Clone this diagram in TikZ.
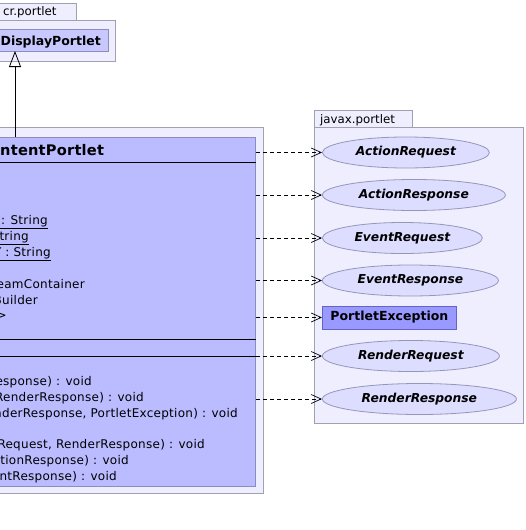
\documentclass[tikz,border=0pt]{standalone}
\usepackage{fontspec}
\setmainfont{DejaVu Sans}
\newfontfamily\spacedfont{DejaVu Sans}[LetterSpace=2.3]
\newfontfamily\titlefont{DejaVu Sans}[LetterSpace=1.5]
\usetikzlibrary{arrows.meta,shapes.geometric}
\definecolor{pkgfill}{RGB}{238,238,255}
\definecolor{pkgline}{RGB}{160,160,176}
\definecolor{clsfill}{RGB}{187,187,255}
\definecolor{clsline}{RGB}{140,140,190}
\definecolor{dispfill}{RGB}{200,200,255}
\definecolor{ellfill}{RGB}{221,221,255}
\definecolor{ellline}{RGB}{150,150,185}
\definecolor{excfill}{RGB}{153,153,255}
\definecolor{excline}{RGB}{100,100,200}
\tikzset{
  pkg/.style={draw=pkgline, fill=pkgfill, line width=0.8pt, inner sep=0pt},
  cls/.style={draw=clsline, fill=clsfill, line width=0.8pt, inner sep=0pt},
  iface/.style={ellipse, draw=ellline, fill=ellfill, line width=0.8pt, inner sep=0pt,
    minimum height=31pt, anchor=west, font=\fontsize{12.3}{14}\selectfont\bfseries\itshape},
  exc/.style={rectangle, draw=excline, fill=excfill, line width=0.8pt, inner sep=0pt,
    minimum height=23pt, minimum width=134pt, anchor=west, font=\fontsize{12.5}{14}\selectfont\bfseries},
  txt/.style={anchor=base east, inner sep=0pt, font=\spacedfont\fontsize{12}{14}\selectfont},
  tabtxt/.style={anchor=base west, inner sep=0pt, font=\fontsize{11.8}{13}\selectfont},
  dep/.style={draw, dash pattern=on 4pt off 3pt, line width=0.7pt, -{Straight Barb[length=10pt,width=9pt,line width=0.7pt]}},
  inh/.style={draw, line width=0.8pt, -{Triangle[open,length=16pt,width=12pt,line width=0.8pt]}}
}
\begin{document}
\begin{tikzpicture}[x=1pt,y=-1pt]
\useasboundingbox (0,0) rectangle (526,530);
\clip (0,0) rectangle (526,530);
% cr.portlet package
\node[pkg, minimum width=87pt, minimum height=17pt, anchor=north east] (crtab) at (77,3) {};
\node[pkg, minimum width=126pt, minimum height=41pt, anchor=north east] (crpkg) at (116,19.5) {};
\node[tabtxt] (crtxt) at (3,15.5) {cr.portlet};
\node[cls, fill=dispfill, minimum width=119pt, minimum height=22pt, anchor=north east] (disp) at (108.5,29) {};
\node[anchor=base east, inner sep=0pt, font=\fontsize{12.5}{14}\selectfont\bfseries] (disptxt) at (101,45) {DisplayPortlet};
% main package
\node[pkg, minimum width=274pt, minimum height=366pt, anchor=north east] (mainpkg) at (264,127) {};
\node[cls, minimum width=266pt, minimum height=349pt, anchor=north east] (cls) at (256,137) {};
\draw[line width=0.8pt] (-10,162) -- (256,162);
\draw[line width=0.8pt] (-10,339) -- (256,339);
\draw[line width=0.8pt] (-10,356) -- (256,356);
\node[anchor=base west, inner sep=0pt, font=\titlefont\fontsize{14.6}{17}\selectfont\bfseries] (title) at (0,155.5) {ntentPortlet};
\node[txt] (a1) at (48,224) {\underline{~~: String}};
\node[txt] (a2) at (29,240) {\underline{tring}};
\node[txt] (a3) at (51,256) {\underline{Y : String}};
\node[txt] (a4) at (85,288) {eamContainer};
\node[txt] (a5) at (38,304) {Builder};
\node[txt] (a6) at (7,319) {>};
\node[txt] (m1) at (92,385) {esponse) : void};
\node[txt] (m2) at (144,401) {RenderResponse) : void};
\node[txt] (m3) at (238,417) {nderResponse, PortletException) : void};
\node[txt] (m4) at (205,448) {Request, RenderResponse) : void};
\node[txt] (m5) at (129,464) {tionResponse) : void};
\node[txt] (m6) at (117,480) {ntResponse) : void};
% inheritance
\coordinate (inhtop) at (15,51);
\draw[inh] (15,137) -- (inhtop);
% javax.portlet package
\node[pkg, minimum width=98pt, minimum height=17pt, anchor=north west] (jtab) at (314,110) {};
\node[pkg, minimum width=209pt, minimum height=296pt, anchor=north west] (jpkg) at (314,127) {};
\node[tabtxt] (jtxt) at (320,123) {javax.portlet};
\node[iface, minimum width=167pt] (ar) at (322,152.5) {ActionRequest};
\node[iface, minimum width=183pt] (as) at (322,195) {ActionResponse};
\node[iface, minimum width=160pt] (er) at (322,238) {EventRequest};
\node[iface, minimum width=176pt] (es) at (322,280.5) {EventResponse};
\node[exc] (pe) at (322,317.5) {PortletException};
\node[iface, minimum width=177pt] (rr) at (322,356) {RenderRequest};
\node[iface, minimum width=194pt] (rs) at (322,399) {RenderResponse};
% dependencies
\foreach \t in {ar,as,er,es,pe,rr,rs}{
  \draw[dep] (cls.east |- \t.west) -- (\t.west);
}
\end{tikzpicture}
\end{document}
